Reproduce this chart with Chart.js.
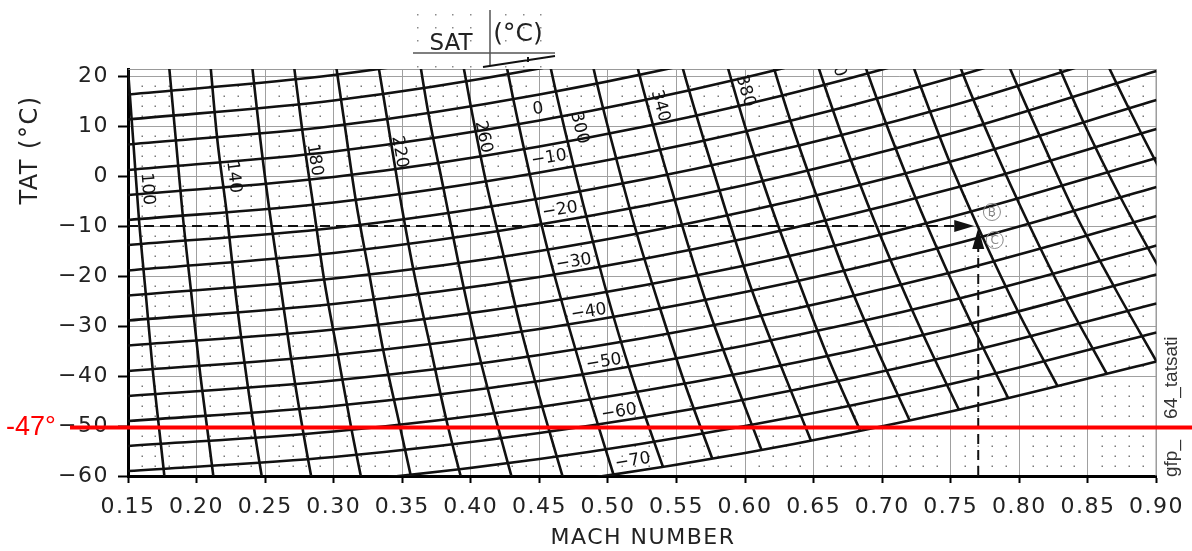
<!DOCTYPE html>
<html>
<head>
<meta charset="utf-8">
<script src="https://cdn.jsdelivr.net/npm/chart.js@4.4.0/dist/chart.umd.min.js"></script>
<style>
  html, body { margin: 0; padding: 0; background: #fff; }
  #wrap { width: 1192px; height: 551px; }
</style>
</head>
<body>
<div id="wrap"><canvas id="tatChart" width="1192" height="551"></canvas></div>
<script>
// axis ticks
const machTicks = [0.15, 0.20, 0.25, 0.30, 0.35, 0.40, 0.45, 0.50, 0.55, 0.60, 0.65, 0.70, 0.75, 0.80, 0.85, 0.90];
const tatTicks = [-60, -50, -40, -30, -20, -10, 0, 10, 20];

// SAT curves (deg C): TAT read at these Mach numbers
const machGrid = [0.15, 0.30, 0.45, 0.60, 0.75, 0.90];
const satLevels = [15, 10, 5, 0, -5, -10, -15, -20, -25, -30, -35, -40, -45, -50, -55, -60, -65, -70];
const satTat = [
  [16.3, 20.2, 26.7, 35.7, 47.4, 61.7],
  [11.3, 15.1, 21.5, 30.4, 41.9, 55.9],
  [6.3, 10.0, 16.3, 25.0, 36.3, 50.1],
  [1.2, 4.9, 11.1, 19.7, 30.7, 44.3],
  [-3.8, -0.2, 5.9, 14.3, 25.2, 38.4],
  [-8.8, -5.3, 0.7, 8.9, 19.6, 32.6],
  [-13.8, -10.4, -4.5, 3.6, 14.0, 26.8],
  [-18.9, -15.4, -9.7, -1.8, 8.5, 21.0],
  [-23.9, -20.5, -15.0, -7.1, 2.9, 15.2],
  [-28.9, -25.6, -20.2, -12.5, -2.6, 9.4],
  [-33.9, -30.7, -25.4, -17.9, -8.2, 3.6],
  [-39.0, -35.8, -30.6, -23.2, -13.8, -2.2],
  [-44.0, -40.9, -35.8, -28.6, -19.3, -8.0],
  [-49.0, -46.0, -41.0, -33.9, -24.9, -13.9],
  [-54.0, -51.1, -46.2, -39.3, -30.5, -19.7],
  [-59.0, -56.2, -51.4, -44.7, -36.0, -25.5],
  [-64.1, -61.3, -56.6, -50.0, -41.6, -31.3],
  [-69.1, -66.3, -61.8, -55.4, -47.1, -37.1]
];

// TAS curves (kt): points where each one crosses SAT 20, 5, -10, -25, -40, -55, -70
const tasSpeeds = [100, 120, 140, 160, 180, 200, 220, 240, 260, 280, 300, 320, 340, 360, 380, 400, 420, 440, 460, 480, 500, 520, 540];
const tasMach = [
  [0.150, 0.154, 0.158, 0.163, 0.168, 0.174, 0.180],
  [0.180, 0.185, 0.190, 0.196, 0.202, 0.209, 0.216],
  [0.210, 0.215, 0.222, 0.228, 0.235, 0.243, 0.252],
  [0.240, 0.246, 0.253, 0.261, 0.269, 0.278, 0.288],
  [0.270, 0.277, 0.285, 0.293, 0.303, 0.313, 0.324],
  [0.300, 0.308, 0.316, 0.326, 0.336, 0.348, 0.360],
  [0.330, 0.339, 0.348, 0.358, 0.370, 0.382, 0.396],
  [0.360, 0.369, 0.380, 0.391, 0.403, 0.417, 0.432],
  [0.390, 0.400, 0.411, 0.424, 0.437, 0.452, 0.468],
  [0.420, 0.431, 0.443, 0.456, 0.471, 0.487, 0.504],
  [0.450, 0.462, 0.475, 0.489, 0.504, 0.521, 0.540],
  [0.480, 0.492, 0.506, 0.521, 0.538, 0.556, 0.576],
  [0.510, 0.523, 0.538, 0.554, 0.571, 0.591, 0.612],
  [0.540, 0.554, 0.570, 0.587, 0.605, 0.626, 0.648],
  [0.570, 0.585, 0.601, 0.619, 0.639, 0.660, 0.684],
  [0.600, 0.616, 0.633, 0.652, 0.672, 0.695, 0.720],
  [0.630, 0.646, 0.664, 0.684, 0.706, 0.730, 0.756],
  [0.660, 0.677, 0.696, 0.717, 0.740, 0.765, 0.792],
  [0.689, 0.708, 0.728, 0.749, 0.773, 0.799, 0.828],
  [0.719, 0.739, 0.759, 0.782, 0.807, 0.834, 0.864],
  [0.749, 0.769, 0.791, 0.815, 0.840, 0.869, 0.900],
  [0.779, 0.800, 0.823, 0.847, 0.874, 0.904, 0.936],
  [0.809, 0.831, 0.854, 0.880, 0.908, 0.938, 0.972]
];
const tasTat = [
  [21.3, 6.3, -8.7, -23.7, -38.7, -53.7, -68.7],
  [21.9, 6.9, -8.1, -23.1, -38.1, -53.1, -68.1],
  [22.6, 7.6, -7.4, -22.4, -37.4, -52.4, -67.4],
  [23.4, 8.4, -6.6, -21.6, -36.6, -51.6, -66.6],
  [24.3, 9.3, -5.7, -20.7, -35.7, -50.7, -65.7],
  [25.3, 10.3, -4.7, -19.7, -34.7, -49.7, -64.7],
  [26.4, 11.4, -3.6, -18.6, -33.6, -48.6, -63.6],
  [27.6, 12.6, -2.4, -17.4, -32.4, -47.4, -62.4],
  [28.9, 13.9, -1.1, -16.1, -31.1, -46.1, -61.1],
  [30.3, 15.3, 0.3, -14.7, -29.7, -44.7, -59.7],
  [31.9, 16.9, 1.9, -13.1, -28.1, -43.1, -58.1],
  [33.5, 18.5, 3.5, -11.5, -26.5, -41.5, -56.5],
  [35.2, 20.2, 5.2, -9.8, -24.8, -39.8, -54.8],
  [37.1, 22.1, 7.1, -7.9, -22.9, -37.9, -52.9],
  [39.0, 24.0, 9.0, -6.0, -21.0, -36.0, -51.0],
  [41.1, 26.1, 11.1, -3.9, -18.9, -33.9, -48.9],
  [43.2, 28.2, 13.2, -1.8, -16.8, -31.8, -46.8],
  [45.5, 30.5, 15.5, 0.5, -14.5, -29.5, -44.5],
  [47.9, 32.9, 17.9, 2.9, -12.1, -27.1, -42.1],
  [50.3, 35.3, 20.3, 5.3, -9.7, -24.7, -39.7],
  [52.9, 37.9, 22.9, 7.9, -7.1, -22.1, -37.1],
  [55.6, 40.6, 25.6, 10.6, -4.4, -19.4, -34.4],
  [58.4, 43.4, 28.4, 13.4, -1.6, -16.6, -31.6]
];

// curve labels
const satLabels = ['0', '−10', '−20', '−30', '−40', '−50', '−60', '−70'];
const satLabelMach = [0.449, 0.457, 0.465, 0.475, 0.486, 0.497, 0.508, 0.518];
const satLabelTat = [13.4, 3.6, -6.8, -17.2, -27.2, -37.2, -47.2, -57.0];
const tasLabels = ['100', '140', '180', '220', '260', '300', '340', '380', '420'];
const tasLabelMach = [0.164, 0.227, 0.286, 0.348, 0.409, 0.479, 0.538, 0.600, 0.666];
const tasLabelTat = [-2.6, -0.2, 3.2, 4.8, 7.8, 9.6, 14.0, 17.0, 23.0];
const tasLabelAngle = [85, 83, 81, 80, 78, 76, 75, 73, 71];

// worked example and marker
const exampleMach = 0.77;
const exampleTat = -10;
const markTat = -50;
const markText = '-47°';

const FONT = 'DejaVu Sans';

const satSets = satLevels.map((s, i) => ({
  label: 'SAT ' + s,
  data: machGrid.map((m, j) => ({ x: m, y: satTat[i][j] })),
  borderColor: '#111', borderWidth: 2.6, pointRadius: 0,
  cubicInterpolationMode: 'monotone', fill: false
}));

const tasSets = tasSpeeds.map((v, i) => ({
  label: 'TAS ' + v,
  data: tasMach[i].map((m, j) => ({ x: m, y: tasTat[i][j] })),
  borderColor: '#111', borderWidth: 2.6, pointRadius: 0,
  cubicInterpolationMode: 'monotone', fill: false
}));

const dashSets = [
  { label: 'guide TAT', data: [{ x: 0.15, y: exampleTat }, { x: 0.755, y: exampleTat }] },
  { label: 'guide Mach', data: [{ x: exampleMach, y: -60 }, { x: exampleMach, y: -14 }] }
].map(d => Object.assign(d, { borderColor: '#111', borderWidth: 2, borderDash: [10, 6], pointRadius: 0, tension: 0, fill: false }));

const decor = {
  id: 'decor',
  beforeDraw(chart) {
    chart.ctx.letterSpacing = '1.5px';
  },
  beforeDatasetsDraw(chart) {
    const { ctx, chartArea: a, scales: { x, y } } = chart;
    ctx.letterSpacing = '0px';
    ctx.save();
    // dotted fine grid
    ctx.fillStyle = '#7a7a7a';
    for (let i = 16; i <= 89; i++) {
      if (i % 5 === 0) continue;
      const px = Math.round(x.getPixelForValue(i / 100));
      for (let t = -58; t <= 20; t += 2) {
        if (t % 10 === 0) continue;
        const py = Math.round(y.getPixelForValue(t));
        ctx.fillRect(px - 0.5, py - 0.5, 1.5, 1.5);
      }
    }
    ctx.strokeStyle = '#999';
    ctx.lineWidth = 1;
    ctx.beginPath();
    ctx.moveTo(a.left, a.top + 0.5);
    ctx.lineTo(a.right - 0.5, a.top + 0.5);
    ctx.lineTo(a.right - 0.5, a.bottom);
    ctx.stroke();
    ctx.restore();
  },
  afterDatasetsDraw(chart) {
    const { ctx, chartArea: a, scales: { x, y } } = chart;
    ctx.save();
    ctx.beginPath();
    ctx.rect(a.left, a.top, a.right - a.left, a.bottom - a.top);
    ctx.clip();
    ctx.fillStyle = '#111';
    ctx.font = '17px "' + FONT + '"';
    ctx.textAlign = 'center';
    ctx.textBaseline = 'middle';
    tasLabels.forEach((t, i) => {
      ctx.save();
      ctx.translate(x.getPixelForValue(tasLabelMach[i]), y.getPixelForValue(tasLabelTat[i]));
      ctx.rotate(tasLabelAngle[i] * Math.PI / 180);
      ctx.fillText(t, 0, 0);
      ctx.restore();
    });
    satLabels.forEach((t, i) => {
      ctx.save();
      ctx.translate(x.getPixelForValue(satLabelMach[i]), y.getPixelForValue(satLabelTat[i]));
      ctx.rotate(-9 * Math.PI / 180);
      ctx.fillText(t, 0, 0);
      ctx.restore();
    });

    // arrow heads of the worked example
    const ex = x.getPixelForValue(exampleMach);
    const ey = y.getPixelForValue(exampleTat);
    ctx.beginPath();
    ctx.moveTo(ex - 4, ey);
    ctx.lineTo(ex - 24, ey - 6);
    ctx.lineTo(ex - 24, ey + 6);
    ctx.closePath();
    ctx.fill();
    ctx.beginPath();
    ctx.moveTo(ex, ey + 2);
    ctx.lineTo(ex - 6, ey + 23);
    ctx.lineTo(ex + 6, ey + 23);
    ctx.closePath();
    ctx.fill();

    // circled B and C
    ctx.strokeStyle = '#8a8a8a';
    ctx.fillStyle = '#8a8a8a';
    ctx.lineWidth = 1;
    ctx.font = '12px "' + FONT + '"';
    [['B', 0.780, -7.2], ['C', 0.782, -12.8]].forEach(([t, m, v]) => {
      const cx = x.getPixelForValue(m), cy = y.getPixelForValue(v);
      ctx.beginPath();
      ctx.arc(cx, cy, 8.5, 0, Math.PI * 2);
      ctx.stroke();
      ctx.fillText(t, cx, cy + 1);
    });
    ctx.restore();
  },
  afterDraw(chart) {
    const { ctx, scales: { y } } = chart;
    ctx.save();
    ctx.fillStyle = '#222';
    ctx.textAlign = 'center';
    ctx.textBaseline = 'middle';
    ctx.letterSpacing = '1.5px';
    ctx.font = '22px "' + FONT + '"';
    ctx.fillText('MACH NUMBER', 643, 538);
    ctx.save();
    ctx.translate(31, 150);
    ctx.rotate(-Math.PI / 2);
    ctx.font = '24px "' + FONT + '"';
    ctx.fillText('TAT (°C)', 0, 0);
    ctx.restore();

    // SAT (°C) inset at the top
    ctx.letterSpacing = '0px';
    ctx.fillStyle = '#8a8a8a';
    [14, 27, 40, 66].forEach(r => {
      for (let c = 417; c < 555; c += 17.6) {
        if (Math.abs(c - 490) < 8) continue;
        ctx.fillRect(Math.round(c), r, 1.5, 1.5);
      }
    });
    ctx.strokeStyle = '#555';
    ctx.lineWidth = 1.5;
    ctx.beginPath();
    ctx.moveTo(413, 53); ctx.lineTo(555, 53);
    ctx.moveTo(490, 10); ctx.lineTo(490, 66);
    ctx.stroke();
    ctx.strokeStyle = '#111';
    ctx.lineWidth = 2;
    ctx.beginPath();
    ctx.moveTo(483, 67); ctx.lineTo(555, 56);
    ctx.moveTo(528, 57); ctx.lineTo(528, 62);
    ctx.stroke();
    ctx.fillStyle = '#222';
    ctx.font = '23px "' + FONT + '"';
    ctx.fillText('SAT', 451, 44);
    ctx.font = '25px "' + FONT + '"';
    ctx.fillText('(°C)', 518, 34);

    // side tag
    ctx.save();
    ctx.translate(1177, 477);
    ctx.rotate(-Math.PI / 2);
    ctx.textAlign = 'left';
    ctx.textBaseline = 'alphabetic';
    ctx.font = '19px "Liberation Sans"';
    ctx.fillStyle = '#333';
    ctx.fillText('gfp_    64_tatsati', 0, 0);
    ctx.restore();

    // red marker line
    const ry = y.getPixelForValue(markTat) + 1.5;
    ctx.strokeStyle = '#ff0000';
    ctx.lineWidth = 4;
    ctx.beginPath();
    ctx.moveTo(70, ry); ctx.lineTo(1192, ry);
    ctx.stroke();
    ctx.fillStyle = '#ff0000';
    ctx.textAlign = 'left';
    ctx.font = '27px "Liberation Sans"';
    ctx.fillText(markText, 6, ry);
    ctx.restore();
  }
};

new Chart(document.getElementById('tatChart'), {
  type: 'line',
  data: { datasets: [...satSets, ...tasSets, ...dashSets] },
  options: {
    responsive: false,
    animation: false,
    devicePixelRatio: 1,
    layout: { padding: { left: 10, top: 69, right: 32, bottom: 0 } },
    plugins: { legend: { display: false }, tooltip: { enabled: false } },
    scales: {
      x: {
        type: 'linear', min: 0.15, max: 0.90,
        afterBuildTicks: s => { s.ticks = machTicks.map(v => ({ value: v })); },
        afterFit: s => { s.height = 75; },
        grid: { color: '#a0a0a0', lineWidth: 1, tickColor: '#000', tickWidth: 2, tickLength: 7 },
        border: { color: '#000', width: 3 },
        ticks: {
          maxRotation: 0, autoSkip: false, padding: 11, color: '#222',
          font: { family: FONT, size: 22 },
          callback: v => v.toFixed(2)
        }
      },
      y: {
        type: 'linear', min: -60, max: 21.4,
        afterBuildTicks: s => { s.ticks = tatTicks.map(v => ({ value: v })); },
        afterFit: s => { s.width = 118; },
        grid: { color: '#a0a0a0', lineWidth: 1, tickColor: '#000', tickWidth: 2, tickLength: 10 },
        border: { color: '#000', width: 3 },
        ticks: {
          autoSkip: false, padding: 9, color: '#222',
          font: { family: FONT, size: 22 },
          callback: v => (v < 0 ? '−' + Math.abs(v) : String(v))
        }
      }
    }
  },
  plugins: [decor]
});
</script>
</body>
</html>
